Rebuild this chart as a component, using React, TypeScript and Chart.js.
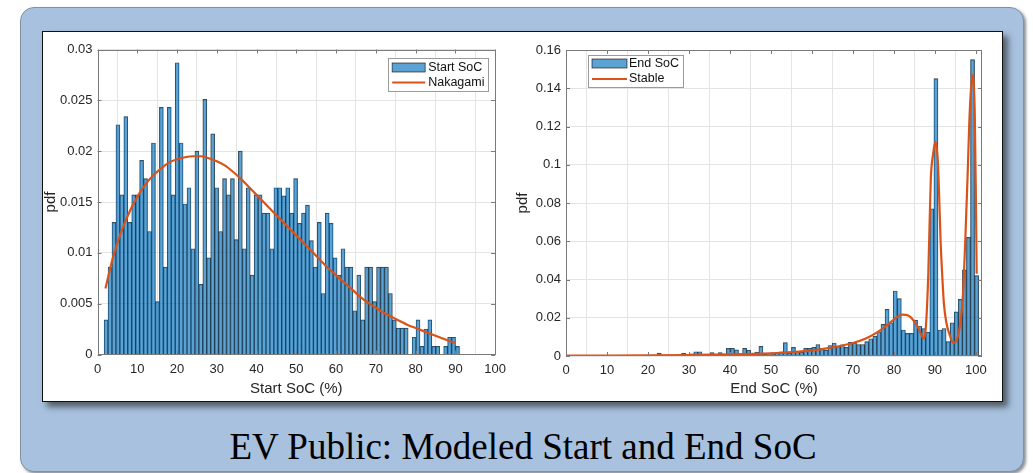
import React, { useEffect, useRef } from 'react';
import { Chart, registerables } from 'chart.js';

Chart.register(...registerables);

// ---------------- DATA ----------------
const CAPTION = 'EV Public: Modeled Start and End SoC';

// Start SoC histogram (pdf per bin, bins of width BIN_WIDTH starting at START_BIN_EDGE)
const START_BIN_EDGE = 1.66;
const END_BIN_EDGE = 0.39;
const BIN_WIDTH = 0.993;

const START_VALUES = [
  0.0034, 0.0086, 0.0130, 0.0226, 0.0157, 0.0234, 0.0130, 0.0157, 0.0157, 0.0191,
  0.0173, 0.0121, 0.0208, 0.0052, 0.0243, 0.0086, 0.0243, 0.0157, 0.0287, 0.0208,
  0.0148, 0.0164, 0.0104, 0.0200, 0.0069, 0.0251, 0.0095, 0.0217, 0.0164, 0.0121,
  0.0173, 0.0157, 0.0173, 0.0113, 0.0200, 0.0104, 0.0164, 0.0078, 0.0157, 0.0157,
  0.0139, 0.0139, 0.0104, 0.0164, 0.0164, 0.0156, 0.0164, 0.0139, 0.0173, 0.0129,
  0.0139, 0.0147, 0.0112, 0.0086, 0.0130, 0.0060, 0.0139, 0.0129, 0.0095, 0.0078,
  0.0104, 0.0086, 0.0086, 0.0043, 0.0078, 0.0034, 0.0086, 0.0086, 0.0052, 0.0086,
  0.0086, 0.0086, 0.0060, 0.0034, 0.0026, 0.0026, 0.0026, 0.0000, 0.0017, 0.0034,
  0.0008, 0.0025, 0.0034, 0.0008, 0.0008, 0.0000, 0.0008, 0.0017, 0.0017, 0.0008,
];

const NAKAGAMI_X = [2, 4, 6, 8, 10, 12, 14, 16, 18, 20, 22, 24, 26, 28, 30, 32, 34, 36, 38, 40, 42, 44, 46, 48, 50, 52, 54, 56, 58, 60, 62, 64, 66, 68, 70, 72, 74, 76, 78, 80, 82, 84, 86, 88, 90];
const NAKAGAMI_Y = [
  0.0065, 0.0097, 0.0121, 0.0140, 0.0155, 0.0167, 0.0176, 0.0183, 0.0189, 0.0192,
  0.0194, 0.0195, 0.0195, 0.0193, 0.0190, 0.0186, 0.0180, 0.0173, 0.0165, 0.0157,
  0.0149, 0.0141, 0.0133, 0.0125, 0.0117, 0.0109, 0.0101, 0.0093, 0.0085, 0.0078,
  0.0071, 0.0064, 0.0057, 0.0051, 0.0046, 0.0041, 0.0037, 0.0033, 0.0029, 0.0026,
  0.0023, 0.0020, 0.0017, 0.0014, 0.0011,
];

// End SoC histogram (101 bins)
const END_VALUES = [
  0, 0, 0, 0, 0, 0, 0, 0, 0, 0,
  0, 0, 0, 0, 0, 0, 0, 0, 0, 0,
  0, 0, 0.0015, 0, 0, 0, 0, 0.0008, 0.0014, 0,
  0.0012, 0.0022, 0.0022, 0.0008, 0, 0.0018, 0, 0.0018, 0, 0.0040,
  0.0040, 0.0032, 0, 0.0040, 0.0030, 0.0012, 0.0020, 0.0050, 0.0010, 0.0008,
  0.0012, 0.0015, 0.0022, 0.0070, 0.0015, 0.0045, 0.0025, 0.0020, 0.0040, 0.0040,
  0.0045, 0.0060, 0.0040, 0.0030, 0.0055, 0.0068, 0.0050, 0.0058, 0.0045, 0.0072,
  0.0068, 0.0060, 0.0060, 0.0075, 0.0090, 0.0104, 0.0127, 0.0165, 0.0244, 0.0174,
  0.0340, 0.0300, 0.0136, 0.0118, 0.0118, 0.0188, 0.0157, 0.0144, 0.0125, 0.0770,
  0.1450, 0.0136, 0.0144, 0.0075, 0.0174, 0.0231, 0.0296, 0.0450, 0.0620, 0.1550,
  0.0420,
];

const STABLE_X = [0, 10, 20, 30, 40, 50, 55, 60, 65, 70, 73, 76, 78, 80, 81, 82, 83, 84, 85, 86, 86.6, 87.2, 87.8, 88.4, 89, 89.6, 90.1, 90.5, 90.8, 91.1, 91.4, 91.8, 92.2, 92.8, 93.5, 94.5, 95.5, 96.3, 96.8, 97.1, 97.5, 98, 98.4, 98.8, 99.25, 99.5, 99.75, 100, 100.2];
const STABLE_Y = [0.0002, 0.0002, 0.0003, 0.0005, 0.0008, 0.0014, 0.0020, 0.0029, 0.0045, 0.0068, 0.0090, 0.0125, 0.0155, 0.0192, 0.0207, 0.0216, 0.0215, 0.0205, 0.0180, 0.0145, 0.0115, 0.0092, 0.0150, 0.0430, 0.0920, 0.1060, 0.1120, 0.1080, 0.0990, 0.0800, 0.0600, 0.0420, 0.0275, 0.0175, 0.0118, 0.0068, 0.0095, 0.0188, 0.0300, 0.0430, 0.0650, 0.0950, 0.1220, 0.1390, 0.1470, 0.1420, 0.1250, 0.0850, 0.0430];

const X_TICKS = [0, 10, 20, 30, 40, 50, 60, 70, 80, 90, 100];
const X_TICK_LABELS = ['0', '10', '20', '30', '40', '50', '60', '70', '80', '90', '100'];
const START_Y_TICKS = [0, 0.005, 0.01, 0.015, 0.02, 0.025, 0.03];
const START_Y_LABELS = ['0', '0.005', '0.01', '0.015', '0.02', '0.025', '0.03'];
const END_Y_TICKS = [0, 0.02, 0.04, 0.06, 0.08, 0.1, 0.12, 0.14, 0.16];
const END_Y_LABELS = ['0', '0.02', '0.04', '0.06', '0.08', '0.1', '0.12', '0.14', '0.16'];

// ---------------- STYLE ----------------
const BAR_FILL = 'rgba(0,110,186,0.64)';
const BAR_EDGE = 'rgba(10,10,10,0.75)';
const LINE_COLOR = '#d95319';
const GRID_COLOR = '#e4e4e4';
const AXIS_COLOR = '#7a7a7a';
const TEXT_COLOR = '#262626';
const SANS = '"Liberation Sans", Arial, Helvetica, sans-serif';

const matlabPlugin = {
  id: 'matlabFrame',
  afterDraw(chart: any, _args: any, opts: any) {
    const { ctx, chartArea: a, scales } = chart;
    ctx.save();
    ctx.strokeStyle = AXIS_COLOR;
    ctx.lineWidth = 1;
    ctx.strokeRect(Math.round(a.left) + 0.5, Math.round(a.top) + 0.5, Math.round(a.right - a.left) - 1, Math.round(a.bottom - a.top) - 1);
    const L = 4;
    ctx.beginPath();
    scales.x.ticks.forEach((t: any) => {
      const px = Math.round(scales.x.getPixelForValue(t.value)) + 0.5;
      ctx.moveTo(px, a.bottom); ctx.lineTo(px, a.bottom - L);
      ctx.moveTo(px, a.top); ctx.lineTo(px, a.top + L);
    });
    scales.y.ticks.forEach((t: any) => {
      const py = Math.round(scales.y.getPixelForValue(t.value)) + 0.5;
      ctx.moveTo(a.left, py); ctx.lineTo(a.left + L, py);
      ctx.moveTo(a.right, py); ctx.lineTo(a.right - L, py);
    });
    ctx.stroke();

    // legend box
    const lg = opts.legend;
    if (lg) {
      const bx = lg.fromRight ? a.right - lg.dx - lg.w : a.left + lg.dx;
      const by = a.top + lg.dy;
      ctx.fillStyle = '#ffffff';
      ctx.fillRect(bx, by, lg.w, lg.h);
      ctx.strokeStyle = '#9a9a9a';
      ctx.lineWidth = 1;
      ctx.strokeRect(Math.round(bx) + 0.5, Math.round(by) + 0.5, lg.w, lg.h);
      const ds = chart.data.datasets;
      const barDs = ds.find((d: any) => d.type === 'bar');
      const lineDs = ds.find((d: any) => d.type === 'line');
      // patch
      ctx.fillStyle = BAR_FILL;
      ctx.fillRect(bx + lg.px, by + lg.r1 - 4.5, lg.pw, 9);
      ctx.strokeStyle = BAR_EDGE;
      ctx.lineWidth = 0.8;
      ctx.strokeRect(bx + lg.px, by + lg.r1 - 4.5, lg.pw, 9);
      // line
      ctx.strokeStyle = LINE_COLOR;
      ctx.lineWidth = 2;
      ctx.beginPath();
      ctx.moveTo(bx + lg.px, by + lg.r2);
      ctx.lineTo(bx + lg.px + lg.pw, by + lg.r2);
      ctx.stroke();
      ctx.fillStyle = '#111';
      ctx.font = '12.5px ' + SANS;
      ctx.textBaseline = 'middle';
      ctx.textAlign = 'left';
      ctx.fillText(barDs.label, bx + lg.tx, by + lg.r1);
      ctx.fillText(lineDs.label, bx + lg.tx, by + lg.r2);
    }
    ctx.restore();
  },
};

function makeConfig(p: any) {
  return {
    type: 'bar',
    data: {
      datasets: [
        {
          type: 'line',
          label: p.lineLabel,
          data: p.lineX.map((x: number, i: number) => ({ x, y: p.lineY[i] })),
          borderColor: LINE_COLOR,
          borderWidth: 2.2,
          pointRadius: 0,
          cubicInterpolationMode: 'monotone',
          fill: false,
          order: 0,
        },
        {
          type: 'bar',
          label: p.barLabel,
          data: p.values.map((v: number, i: number) => ({ x: p.binEdge + BIN_WIDTH * (i + 0.5), y: v })),
          backgroundColor: BAR_FILL,
          borderColor: BAR_EDGE,
          borderWidth: 0.5,
          barPercentage: 1,
          categoryPercentage: 1,
          order: 1,
        },
      ],
    },
    options: {
      responsive: false,
      animation: false,
      devicePixelRatio: 1,
      layout: { padding: { top: p.padTop, right: p.padRight, left: 0, bottom: 0 } },
      plugins: {
        legend: { display: false },
        tooltip: { enabled: false },
        matlabFrame: { legend: p.legend },
      },
      scales: {
        x: {
          type: 'linear',
          min: 0,
          max: p.xMax,
          offset: false,
          afterBuildTicks: (s: any) => { s.ticks = X_TICKS.map((v) => ({ value: v })); },
          afterFit: (s: any) => { s.height = p.xAxisH; },
          ticks: {
            autoSkip: false,
            maxRotation: 0,
            padding: 7,
            color: TEXT_COLOR,
            font: { size: 13, family: SANS },
            callback: (_v: any, i: number) => X_TICK_LABELS[i],
          },
          grid: { color: GRID_COLOR, drawTicks: false, lineWidth: 1 },
          border: { display: false },
          title: {
            display: true,
            text: p.xTitle,
            color: TEXT_COLOR,
            font: { size: 15, family: SANS },
            padding: { top: 0, bottom: 1 },
          },
        },
        y: {
          type: 'linear',
          min: 0,
          max: p.yTicks[p.yTicks.length - 1],
          afterBuildTicks: (s: any) => { s.ticks = p.yTicks.map((v: number) => ({ value: v })); },
          afterFit: (s: any) => { s.width = p.yAxisW; },
          ticks: {
            autoSkip: false,
            padding: 5,
            color: TEXT_COLOR,
            font: { size: 13, family: SANS },
            callback: (_v: any, i: number) => p.yLabels[i],
          },
          grid: { color: GRID_COLOR, drawTicks: false, lineWidth: 1 },
          border: { display: false },
          title: {
            display: true,
            text: 'pdf',
            color: TEXT_COLOR,
            font: { size: 15, family: SANS },
            padding: { top: p.yTitlePad, bottom: 0 },
          },
        },
      },
    },
    plugins: [matlabPlugin],
  };
}

function HistChart(props: { cfg: any; left: number; top: number; width: number; height: number }) {
  const ref = useRef<HTMLCanvasElement | null>(null);
  useEffect(() => {
    if (!ref.current) return;
    const chart = new Chart(ref.current, makeConfig(props.cfg) as any);
    return () => chart.destroy();
  }, []);
  return (
    <canvas
      ref={ref}
      width={props.width}
      height={props.height}
      style={{ position: 'absolute', left: props.left, top: props.top, width: props.width, height: props.height }}
    />
  );
}

const START_CFG = {
  barLabel: 'Start SoC',
  lineLabel: 'Nakagami',
  values: START_VALUES,
  binEdge: START_BIN_EDGE,
  lineX: NAKAGAMI_X,
  lineY: NAKAGAMI_Y,
  xMax: 100,
  xTitle: 'Start SoC (%)',
  yTicks: START_Y_TICKS,
  yLabels: START_Y_LABELS,
  padTop: 16.5,
  padRight: 13,
  xAxisH: 44.5,
  yAxisW: 61.5,
  yTitlePad: 6,
  legend: { fromRight: true, dx: 7, dy: 8.5, w: 100, h: 33, px: 4, pw: 33, tx: 40, r1: 9.5, r2: 24.5 },
};

const END_CFG = {
  barLabel: 'End SoC',
  lineLabel: 'Stable',
  values: END_VALUES,
  binEdge: END_BIN_EDGE,
  lineX: STABLE_X,
  lineY: STABLE_Y,
  xMax: 101.5,
  xTitle: 'End SoC (%)',
  yTicks: END_Y_TICKS,
  yLabels: END_Y_LABELS,
  padTop: 17,
  padRight: 16,
  xAxisH: 43,
  yAxisW: 56,
  yTitlePad: 4,
  legend: { fromRight: false, dx: 22, dy: 5, w: 95, h: 32, px: 4, pw: 35, tx: 41, r1: 8.5, r2: 24 },
};

export default function App() {
  return (
    <div style={{ position: 'fixed', left: 0, top: 0, width: 1033, height: 473, background: '#ffffff', overflow: 'hidden' }}>
      <div
        style={{
          position: 'absolute', left: 20, top: 7, width: 1002, height: 463,
          background: '#a7c1df', border: '1.5px solid #8191a6', borderRadius: 14,
          boxShadow: '2px 2px 3px rgba(60,70,85,0.6)',
        }}
      />
      <div
        style={{
          position: 'absolute', left: 42, top: 31, width: 959, height: 369,
          background: '#ffffff', border: '1.5px solid #111',
          boxShadow: '5px 5px 6px rgba(40,40,40,0.65)',
        }}
      />
      <HistChart cfg={START_CFG} left={36} top={33} width={477} height={366} />
      <HistChart cfg={END_CFG} left={510} top={33} width={488} height={366} />
      <div
        style={{
          position: 'absolute', left: 20, top: 428, width: 1006, textAlign: 'center',
          fontFamily: '"Liberation Serif", "Times New Roman", serif', fontSize: 37, lineHeight: '37px', color: '#000',
          whiteSpace: 'nowrap',
        }}
      >
        {CAPTION}
      </div>
    </div>
  );
}
